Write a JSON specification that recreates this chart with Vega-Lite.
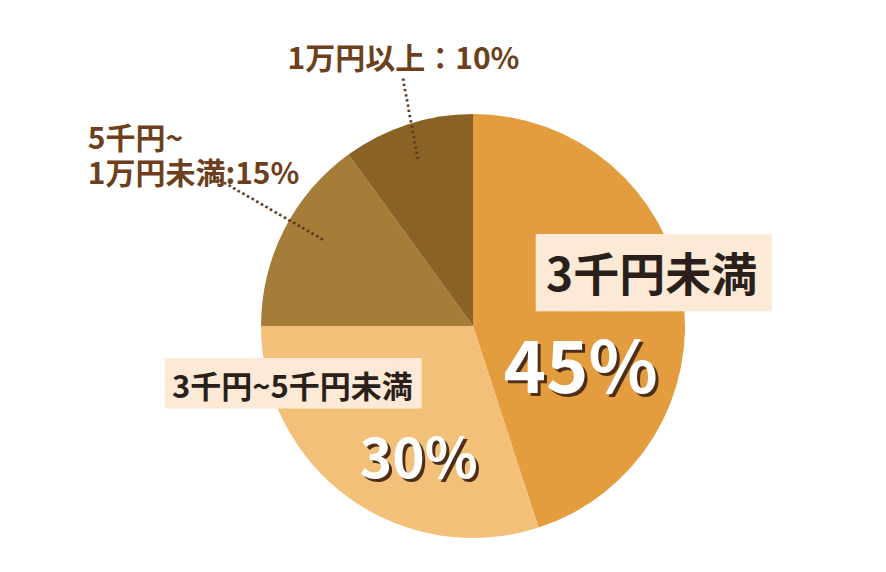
{
  "$schema": "https://vega.github.io/schema/vega-lite/v6.json",
  "autosize": {"type": "none"},
  "width": 826,
  "height": 492,
  "padding": {"left": 60, "top": 80, "right": 0, "bottom": 0},
  "background": "#ffffff",
  "data": {
    "values": [
      {"cat": "3千円未満", "share": 0.45, "label": "3千円未満"},
      {"cat": "3千円~5千円未満", "share": 0.30, "label": "3千円~5千円未満"},
      {"cat": "5千円~1万円未満", "share": 0.15, "label": "5千円~\n1万円未満:15%"},
      {"cat": "1万円以上", "share": 0.10, "label": "1万円以上：10%"}
    ]
  },
  "encoding": {
    "theta": {"field": "share", "type": "quantitative", "stack": true},
    "order": {"field": "share", "sort": "descending"},
    "detail": {"field": "cat", "type": "nominal"}
  },
  "layer": [
    {
      "mark": {"type": "arc", "outerRadius": 212},
      "encoding": {
        "color": {
          "field": "cat",
          "type": "nominal",
          "scale": {
            "domain": ["3千円未満", "3千円~5千円未満", "5千円~1万円未満", "1万円以上"],
            "range": ["#E49D3E", "#F3C079", "#A57C38", "#8A6225"]
          },
          "legend": null
        }
      }
    },
    {
      "mark": {"type": "text", "radius": 190, "dx": -7, "dy": -21, "font": "DejaVu Sans Mono", "fontSize": 65, "fill": "#FCEAD6", "align": "center", "baseline": "middle"},
      "encoding": {
        "text": {"condition": {"test": "datum.cat === '3千円未満'", "value": "██████"}, "value": ""}
      }
    },
    {
      "mark": {"type": "text", "radius": 190, "dx": -68, "dy": -95, "font": "DejaVu Sans Mono", "fontSize": 42.5, "fill": "#FCEAD6", "align": "center", "baseline": "middle"},
      "encoding": {
        "text": {"condition": {"test": "datum.cat === '3千円~5千円未満'", "value": "██████████"}, "value": ""}
      }
    },
    {
      "mark": {"type": "text", "radius": 190, "dx": -9, "dy": -19, "font": "Noto Sans CJK JP", "fontWeight": "bold", "fontSize": 46, "letterSpacing": 1, "fill": "#2B1F1C", "align": "center", "baseline": "middle"},
      "encoding": {
        "text": {"condition": {"test": "datum.cat === '3千円未満'", "field": "label", "type": "nominal"}, "value": ""}
      }
    },
    {
      "mark": {"type": "text", "radius": 190, "dx": -69, "dy": -91, "font": "Noto Sans CJK JP", "fontWeight": "bold", "fontSize": 31, "letterSpacing": 1, "fill": "#2B1F1C", "align": "center", "baseline": "middle"},
      "encoding": {
        "text": {"condition": {"test": "datum.cat === '3千円~5千円未満'", "field": "label", "type": "nominal"}, "value": ""}
      }
    },
    {
      "mark": {"type": "text", "radius": 115, "dx": -3, "dy": 66, "font": "Noto Sans CJK JP", "fontWeight": "bold", "fontSize": 72, "fill": "#4E2E16", "align": "center", "baseline": "middle"},
      "encoding": {
        "text": {"condition": {"test": "datum.cat === '3千円未満'", "field": "share", "type": "quantitative", "format": ".0%"}, "value": ""}
      }
    },
    {
      "mark": {"type": "text", "radius": 115, "dx": -6, "dy": 63, "font": "Noto Sans CJK JP", "fontWeight": "bold", "fontSize": 72, "fill": "#ffffff", "align": "center", "baseline": "middle"},
      "encoding": {
        "text": {"condition": {"test": "datum.cat === '3千円未満'", "field": "share", "type": "quantitative", "format": ".0%"}, "value": ""}
      }
    },
    {
      "mark": {"type": "text", "radius": 140, "dx": 31, "dy": 25, "font": "Noto Sans CJK JP", "fontWeight": "bold", "fontSize": 55, "fill": "#4E2E16", "align": "center", "baseline": "middle"},
      "encoding": {
        "text": {"condition": {"test": "datum.cat === '3千円~5千円未満'", "field": "share", "type": "quantitative", "format": ".0%"}, "value": ""}
      }
    },
    {
      "mark": {"type": "text", "radius": 140, "dx": 28, "dy": 22, "font": "Noto Sans CJK JP", "fontWeight": "bold", "fontSize": 55, "fill": "#ffffff", "align": "center", "baseline": "middle"},
      "encoding": {
        "text": {"condition": {"test": "datum.cat === '3千円~5千円未満'", "field": "share", "type": "quantitative", "format": ".0%"}, "value": ""}
      }
    },
    {
      "mark": {"type": "text", "radius": 300, "dx": -118, "dy": -50, "font": "Noto Sans CJK JP", "fontWeight": "bold", "fontSize": 30, "letterSpacing": 3.5, "lineBreak": "\n", "lineHeight": 35, "fill": "#6E3F1C", "align": "left", "baseline": "middle"},
      "encoding": {
        "text": {"condition": {"test": "datum.cat === '5千円~1万円未満'", "field": "label", "type": "nominal"}, "value": ""}
      }
    },
    {
      "mark": {"type": "text", "radius": 280, "dx": 17, "dy": 0.6, "font": "Noto Sans CJK JP", "fontWeight": "bold", "fontSize": 30, "letterSpacing": 4, "fill": "#6E3F1C", "align": "center", "baseline": "middle"},
      "encoding": {
        "text": {"condition": {"test": "datum.cat === '1万円以上'", "field": "label", "type": "nominal"}, "value": ""}
      }
    },
    {
      "mark": {"type": "text", "radius": 216, "angle": 79.7, "dx": -1, "dy": -7, "font": "DejaVu Sans", "fontWeight": "bold", "fontSize": 14, "fill": "#5A3A1E", "align": "center", "baseline": "middle"},
      "encoding": {
        "text": {"condition": {"test": "datum.cat === '1万円以上'", "value": "................"}, "value": ""}
      }
    },
    {
      "mark": {"type": "text", "radius": 240, "angle": 30, "dx": -4, "dy": -15, "font": "DejaVu Sans", "fontWeight": "bold", "fontSize": 14, "fill": "#5A3A1E", "align": "center", "baseline": "middle"},
      "encoding": {
        "text": {"condition": {"test": "datum.cat === '5千円~1万円未満'", "value": "..........................."}, "value": ""}
      }
    }
  ],
  "config": {"view": {"stroke": null}}
}
